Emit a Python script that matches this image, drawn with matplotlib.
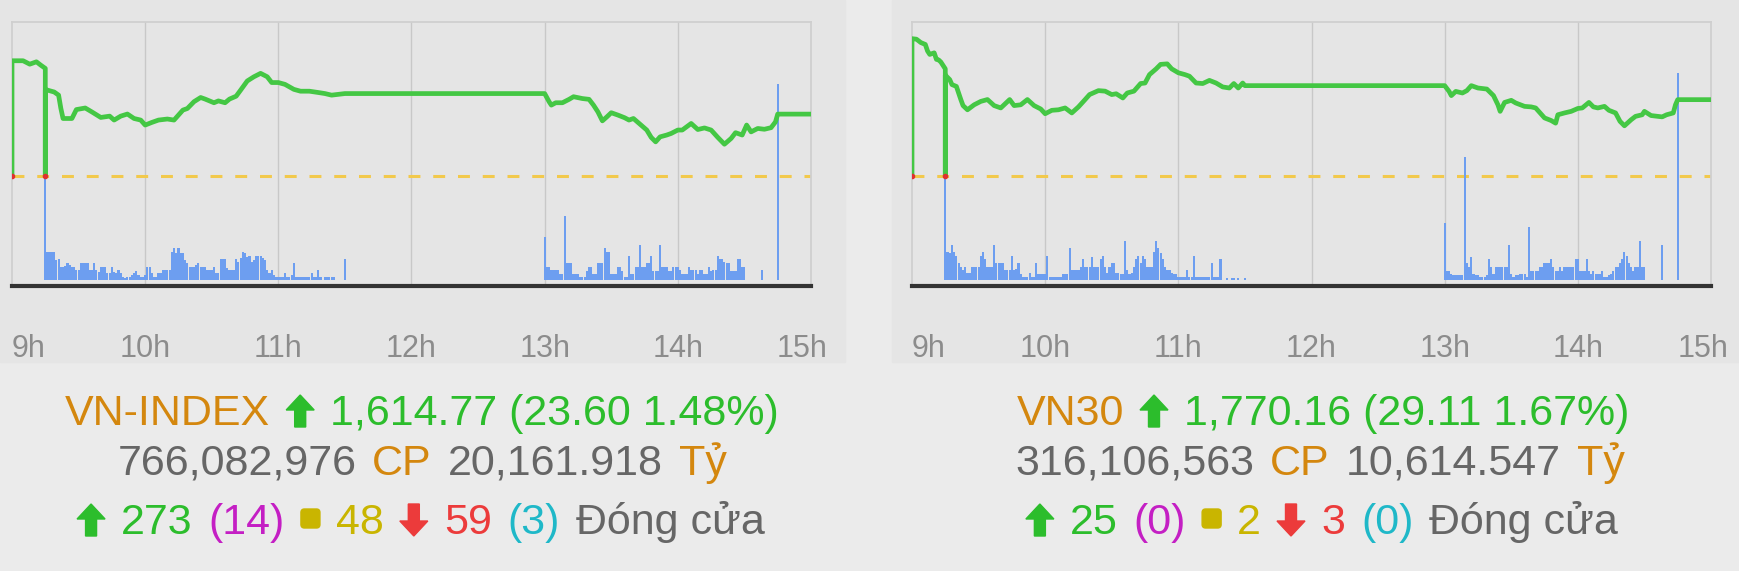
import matplotlib
matplotlib.use("Agg")
import matplotlib.pyplot as plt
import numpy as np
from matplotlib.patches import Rectangle, Polygon, FancyBboxPatch
from matplotlib.transforms import IdentityTransform, offset_copy

# --- Values (time = minutes after 9:00)
hours = [9, 10, 11, 12, 13, 14, 15]

vni_ref = 1591.17
vni_t = [0, 0, 5, 8, 11, 13, 15, 15, 15, 16, 19, 21, 22, 23, 27, 29, 33, 36, 40, 44, 46, 49, 52,
         55, 58, 60, 63, 66, 70, 73, 75, 77, 79, 82, 85, 87, 91, 93, 96, 98, 101, 103, 106,
         109, 112, 115, 117, 120, 123, 127, 130, 134, 138, 141, 144, 147, 150, 240, 242, 243,
         245, 248, 251, 253, 257, 260, 262, 264, 266, 268, 270, 273, 276, 278, 280, 283, 286,
         288, 290, 292, 295, 297, 300, 302, 306, 309, 312, 315, 318, 321, 324, 326, 329, 331,
         333, 336, 339, 342, 344, 345, 360]
vni_price = [1591.17, 1635.1, 1635.1, 1633.8, 1634.7, 1633.4, 1632.2, 1591.17, 1623.9, 1623.9,
             1623.2, 1622.0, 1617.0, 1613.1, 1613.1, 1616.5, 1617.1, 1615.6, 1613.5, 1614.0,
             1612.5, 1614.0, 1614.8, 1613.1, 1612.5, 1610.6, 1611.6, 1612.5, 1612.9, 1612.5,
             1614.4, 1616.3, 1616.9, 1619.5, 1621.1, 1620.5, 1619.1, 1619.8, 1619.1, 1620.5,
             1621.6, 1623.9, 1627.4, 1629.0, 1630.3, 1629.0, 1626.8, 1626.8, 1626.1, 1624.2,
             1623.5, 1623.5, 1623.0, 1622.6, 1622.0, 1622.3, 1622.6, 1622.6, 1619.5, 1618.2,
             1619.1, 1619.1, 1620.4, 1621.4, 1620.7, 1620.4, 1618.2, 1615.6, 1612.2, 1613.7,
             1615.3, 1614.4, 1613.4, 1612.5, 1613.1, 1610.9, 1608.7, 1605.9, 1604.2, 1606.1,
             1606.8, 1607.4, 1608.7, 1608.7, 1611.2, 1608.9, 1609.5, 1608.7, 1605.9, 1603.3,
             1605.5, 1607.7, 1606.8, 1610.6, 1608.0, 1609.3, 1609.0, 1609.6, 1611.8, 1614.77,
             1614.77]
# volume bars (relative height), one per minute from 9:15 and from 13:00
vni_vol_am = [104, 28, 28, 28, 28, 20, 21, 13, 13, 14,
              17, 15, 13, 13, 10, 10, 17, 17, 17, 17,
              10, 10, 17, 10, 8, 13, 13, 13, 7, 7,
              13, 8, 7, 10, 7, 3, 2, 3, 3, 5,
              7, 9, 5, 3, 3, 5, 13, 13, 7, 3,
              3, 7, 7, 10, 10, 10, 10, 28, 32, 27,
              32, 27, 27, 20, 17, 13, 13, 13, 15, 17,
              13, 13, 13, 10, 10, 10, 13, 7, 7, 21,
              21, 21, 12, 10, 10, 10, 21, 18, 22, 28,
              27, 23, 24, 18, 20, 24, 24, 24, 22, 20,
              10, 7, 10, 5, 3, 3, 3, 3, 7, 3,
              3, 5, 17, 3, 3, 3, 3, 3, 3, 3,
              7, 3, 3, 10, 3, 0, 3, 3, 3, 3,
              3, 0, 0, 0, 0, 21]
vni_vol_pm = [43, 13, 13, 10, 10, 10, 10, 6, 6, 64,
              17, 17, 17, 6, 6, 6, 3, 3, 3, 9,
              13, 13, 6, 6, 17, 17, 17, 32, 28, 28,
              6, 6, 6, 13, 13, 9, 3, 3, 24, 6,
              6, 13, 13, 35, 13, 13, 17, 17, 24, 9,
              9, 9, 35, 13, 13, 13, 9, 9, 13, 13,
              13, 10, 6, 6, 6, 13, 10, 10, 10, 6,
              10, 10, 6, 6, 13, 9, 10, 10, 24, 21,
              21, 18, 17, 17, 9, 9, 9, 21, 21, 13,
              13]
vni_vol_late_t = [338, 345]
vni_vol_late = [10, 196]

vn30_ref = 1741.05
vn30_t = [0, 0, 2, 4, 6, 7, 8, 10, 11, 12, 13, 15, 15, 15, 17, 18, 20, 22, 23, 25, 28, 31, 34, 37,
          40, 44, 46, 49, 52, 55, 58, 60, 63, 66, 69, 72, 75, 78, 80, 84, 87, 90, 92, 95, 97,
          100, 103, 105, 107, 110, 112, 115, 117, 120, 123, 125, 128, 131, 134, 137, 140, 143,
          145, 147, 149, 150, 240, 242, 243, 245, 248, 250, 252, 255, 259, 262, 264, 265, 267,
          270, 272, 276, 279, 281, 283, 285, 288, 290, 291, 294, 297, 300, 302, 305, 307, 309,
          312, 314, 317, 319, 321, 324, 326, 329, 330, 333, 336, 338, 340, 343, 344, 345, 360]
vn30_price = [1741.05, 1793.4, 1793.2, 1791.9, 1791.2, 1788.7, 1787.4, 1788.0, 1785.5, 1785.3,
              1784.5, 1781.9, 1741.05, 1779.5, 1777.8, 1775.9, 1775.2, 1770.2, 1767.9, 1766.3,
              1768.2, 1769.5, 1770.2, 1767.9, 1767.0, 1770.2, 1767.9, 1768.2, 1770.2, 1767.9,
              1766.6, 1764.8, 1766.1, 1766.3, 1767.0, 1765.1, 1767.4, 1770.2, 1772.1, 1773.6,
              1773.4, 1772.1, 1772.4, 1770.8, 1772.7, 1773.4, 1776.3, 1776.5, 1779.7, 1781.9,
              1783.6, 1783.8, 1781.9, 1780.4, 1779.7, 1779.1, 1776.5, 1776.3, 1777.5, 1776.5,
              1775.0, 1774.6, 1776.3, 1774.6, 1776.5, 1775.5, 1775.5, 1773.3, 1771.7, 1773.3,
              1772.7, 1773.6, 1775.5, 1774.6, 1774.2, 1771.7, 1768.2, 1765.7, 1769.1, 1769.9,
              1768.9, 1767.6, 1767.4, 1767.0, 1765.1, 1763.2, 1762.2, 1761.2, 1764.4, 1765.1,
              1765.7, 1766.8, 1767.0, 1769.1, 1767.4, 1767.0, 1767.6, 1766.1, 1765.1, 1761.9,
              1760.2, 1762.5, 1763.8, 1764.4, 1765.7, 1764.1, 1763.8, 1763.6, 1764.4, 1765.1,
              1768.2, 1770.16, 1770.16]
vn30_vol_am = [104, 28, 27, 35, 28, 24, 17, 13, 10, 13,
               7, 7, 13, 13, 13, 13, 24, 28, 21, 13,
               13, 13, 35, 17, 17, 17, 17, 10, 10, 10,
               24, 10, 11, 17, 6, 3, 3, 3, 7, 3,
               3, 17, 6, 6, 6, 6, 24, 3, 3, 3,
               3, 3, 3, 6, 6, 6, 32, 10, 10, 10,
               10, 13, 21, 13, 13, 13, 23, 13, 13, 13,
               21, 24, 13, 7, 13, 17, 17, 7, 7, 6,
               6, 39, 10, 6, 7, 13, 21, 24, 17, 24,
               21, 13, 13, 13, 28, 39, 32, 27, 21, 13,
               10, 10, 7, 6, 6, 3, 3, 3, 3, 10,
               3, 3, 24, 3, 3, 3, 3, 3, 3, 3,
               17, 3, 3, 3, 21, 0, 0, 2, 0, 2,
               2, 0, 2, 0, 0, 2]
vn30_vol_pm = [57, 9, 9, 6, 5, 5, 5, 5, 5, 123,
               17, 13, 23, 6, 5, 5, 3, 3, 3, 5,
               21, 13, 6, 13, 13, 13, 13, 13, 13, 35,
               6, 3, 5, 5, 6, 6, 6, 3, 53, 9,
               9, 9, 9, 13, 13, 17, 17, 17, 21, 13,
               9, 9, 13, 9, 13, 13, 13, 13, 13, 21,
               21, 9, 9, 9, 21, 9, 6, 9, 6, 6,
               6, 9, 3, 3, 5, 6, 9, 13, 13, 17,
               21, 28, 24, 17, 13, 9, 13, 13, 39, 13,
               13]
vn30_vol_late_t = [338, 345]
vn30_vol_late = [35, 207]

# --- Colours
ORANGE = "#d4870e"
GREEN = "#2cbd2c"
GRAY = "#666666"
MAGENTA = "#c41fc4"
OLIVE = "#c9b500"
RED = "#ec3b3b"
CYAN = "#1fb8c8"
LINE_GREEN = "#44c744"
BAR_BLUE = "#6d9ef0"
DASH = "#f2c94c"

FAM = ["Liberation Sans", "DejaVu Sans"]

W, H = 1740, 571
fig = plt.figure(figsize=(W / 100, H / 100), dpi=100, facecolor="#ebebeb")

# chart panels (slightly darker than the page), kept behind the axes
for px0, pw in [(0, 845), (892, 848)]:
    fig.patches.append(Rectangle((px0 / W, 1 - 362 / H), pw / W, 362 / H,
                                 transform=fig.transFigure, color="#e5e5e5", zorder=-10))


def draw_panel(x0, t, price, ref, vol_am, vol_pm, late_t, late_v):
    rect = [x0 / W, 1 - 286 / H, 799 / W, 264 / H]
    lo, hi = ref - 41.9, ref + 58.7
    ax = fig.add_axes(rect, zorder=1)
    ax.set_facecolor("#e5e5e5")
    ax.set_xlim(0, 360)
    ax.set_ylim(lo, hi)
    ax.set_xticks([])
    ax.set_yticks([])
    for s in ["top", "left", "right"]:
        ax.spines[s].set_color("#cfcfcf")
        ax.spines[s].set_linewidth(1.3)
    ax.spines["bottom"].set_color("#333333")
    ax.spines["bottom"].set_linewidth(3.0)
    for h in hours[1:-1]:
        ax.axvline((h - 9) * 60, color="#c8c8c8", lw=1.0, zorder=0)
    ax.axhline(ref, color=DASH, lw=2.2, dashes=(3.9, 4.2), zorder=1)

    # volume bars
    axv = ax.twinx()
    axv.set_ylim(-6, 258)
    axv.axis("off")
    axv.bar(np.arange(15, 15 + len(vol_am)), vol_am, width=0.95, color=BAR_BLUE, linewidth=0)
    axv.bar(np.arange(240, 240 + len(vol_pm)), vol_pm, width=0.95, color=BAR_BLUE, linewidth=0)
    axv.bar(late_t, late_v, width=1.0, color=BAR_BLUE, linewidth=0)

    # index line
    axl = ax.twinx()
    axl.set_ylim(lo, hi)
    axl.axis("off")
    axl.plot(t, price, color=LINE_GREEN, lw=3.4, solid_joinstyle="round", solid_capstyle="butt")
    axl.plot([0, 15], [ref, ref], "o", color="#e03030", ms=3, zorder=5)

    # hour labels
    base = ax.get_xaxis_transform()
    for i, h in enumerate(hours):
        if i == 0:
            tr, ha = base, "left"
        elif i == len(hours) - 1:
            tr, ha = offset_copy(base, fig=fig, x=17, y=0, units="dots"), "right"
        else:
            tr, ha = base, "center"
        ax.text((h - 9) * 60, (286 - 357) / 264, f"{h}h", transform=tr, ha=ha, va="baseline",
                fontsize=22, color="#8c8c8c", family=FAM)


GAP = 16      # px between pieces of a summary line
SLOT = {"up": 28, "down": 28, "sq": 19}


def icon(kind, c, x, y):
    # x: left of slot, y: baseline (display px, upwards)
    if kind in ("up", "down"):
        aw, ah, hh, sw = 28, 32, 15, 5.5
        pts = [(aw / 2 - sw, 0), (aw / 2 + sw, 0), (aw / 2 + sw, ah - hh), (aw, ah - hh),
               (aw / 2, ah), (0, ah - hh), (aw / 2 - sw, ah - hh)]
        if kind == "down":
            pts = [(px, ah - py) for px, py in pts]
        fig.add_artist(Polygon([(x + px, y - 2 + py) for px, py in pts], closed=True, color=c,
                               transform=IdentityTransform()))
    else:
        fig.add_artist(FancyBboxPatch((x, y + 6), 19, 19,
                                      boxstyle="round,pad=0,rounding_size=3.5", color=c,
                                      transform=IdentityTransform()))


def rich_line(segs, cx, baseline, size=31):
    r = fig.canvas.get_renderer()
    items = []
    for kind, s, c in segs:
        if kind == "txt":
            tx = fig.text(0, 0, s, color=c, fontsize=size, family=FAM, ha="left",
                          va="baseline", transform=IdentityTransform())
            items.append((kind, tx, c, tx.get_window_extent(r).width))
        else:
            items.append((kind, None, c, SLOT[kind]))
    total = sum(it[3] for it in items) + GAP * (len(items) - 1)
    x = cx - total / 2
    y = H - baseline
    for kind, tx, c, w in items:
        if tx is not None:
            tx.set_position((x, y))
        else:
            icon(kind, c, x, y)
        x += w + GAP


draw_panel(12, vni_t, vni_price, vni_ref, vni_vol_am, vni_vol_pm, vni_vol_late_t, vni_vol_late)
draw_panel(912, vn30_t, vn30_price, vn30_ref, vn30_vol_am, vn30_vol_pm, vn30_vol_late_t, vn30_vol_late)

rich_line([("txt", "VN-INDEX", ORANGE), ("up", "", GREEN),
           ("txt", "1,614.77 (23.60 1.48%)", GREEN)], 422, 425)
rich_line([("txt", "766,082,976", GRAY), ("txt", "CP", ORANGE),
           ("txt", "20,161.918", GRAY), ("txt", "Tỷ", ORANGE)], 422, 475)
rich_line([("up", "", GREEN), ("txt", "273", GREEN), ("txt", "(14)", MAGENTA),
           ("sq", "", OLIVE), ("txt", "48", OLIVE), ("down", "", RED),
           ("txt", "59", RED), ("txt", "(3)", CYAN), ("txt", "Đóng cửa", GRAY)], 421, 534)

rich_line([("txt", "VN30", ORANGE), ("up", "", GREEN),
           ("txt", "1,770.16 (29.11 1.67%)", GREEN)], 1323, 425)
rich_line([("txt", "316,106,563", GRAY), ("txt", "CP", ORANGE),
           ("txt", "10,614.547", GRAY), ("txt", "Tỷ", ORANGE)], 1320, 475)
rich_line([("up", "", GREEN), ("txt", "25", GREEN), ("txt", "(0)", MAGENTA),
           ("sq", "", OLIVE), ("txt", "2", OLIVE), ("down", "", RED),
           ("txt", "3", RED), ("txt", "(0)", CYAN), ("txt", "Đóng cửa", GRAY)], 1322, 534)

fig.savefig("out.png", dpi=100, facecolor=fig.get_facecolor())
